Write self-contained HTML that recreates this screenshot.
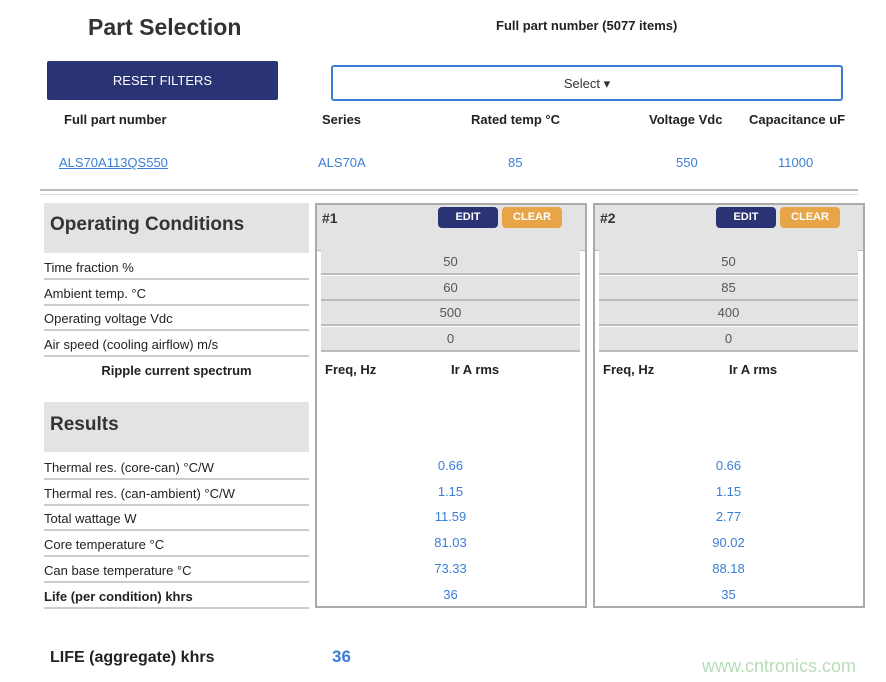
<!DOCTYPE html>
<html><head><style>
body{margin:0;width:886px;height:682px;background:#fff;font-family:"Liberation Sans",sans-serif;position:relative;overflow:hidden;color:#222}
.a{position:absolute}
.lbl{position:absolute;left:44px;width:265px;font-size:13px;color:#222;border-bottom:2px solid #ccc;height:22px;line-height:24px}
.blue{color:#3a7fd5}
.cell{position:absolute;height:23px;background:#e3e3e3;border-bottom:2px solid #bbb;text-align:center;line-height:23px;font-size:13px;color:#555}
.v{position:absolute;text-align:center;font-size:13px;color:#3a7fd5}
.btn{position:absolute;height:21px;border-radius:4px;font-size:11px;color:#fff;text-align:center;line-height:21px;font-weight:bold}
</style></head><body>
<div class="a" style="left:88px;top:14px;font-size:23px;font-weight:bold;color:#333">Part Selection</div>
<div class="a" style="left:496px;top:18px;font-size:13px;font-weight:bold;color:#222">Full part number (5077 items)</div>
<div class="a" style="left:47px;top:61px;width:231px;height:39px;background:#2a3475;color:#fff;font-size:13px;text-align:center;line-height:39px;border-radius:2px">RESET FILTERS</div>
<div class="a" style="left:331px;top:65px;width:508px;height:32px;border:2px solid #3a7fd5;border-radius:3px;text-align:center;line-height:33px;font-size:13px;color:#333">Select ▾</div>
<div class="a" style="left:64px;top:112px;font-size:13px;font-weight:bold">Full part number</div>
<div class="a" style="left:322px;top:112px;font-size:13px;font-weight:bold">Series</div>
<div class="a" style="left:471px;top:112px;font-size:13px;font-weight:bold">Rated temp °C</div>
<div class="a" style="left:649px;top:112px;font-size:13px;font-weight:bold">Voltage Vdc</div>
<div class="a" style="left:749px;top:112px;font-size:13px;font-weight:bold">Capacitance uF</div>
<div class="a blue" style="left:59px;top:155px;font-size:13px;text-decoration:underline">ALS70A113QS550</div>
<div class="a blue" style="left:318px;top:155px;font-size:13px">ALS70A</div>
<div class="a blue" style="left:508px;top:155px;font-size:13px">85</div>
<div class="a blue" style="left:676px;top:155px;font-size:13px">550</div>
<div class="a blue" style="left:778px;top:155px;font-size:13px">11000</div>
<div class="a" style="left:40px;top:189px;width:818px;height:2px;background:#bbb"></div>
<div class="a" style="left:40px;top:194px;width:818px;height:1px;background:#ddd"></div>

<div class="a" style="left:44px;top:203px;width:265px;height:50px;background:#e3e3e3"></div>
<div class="a" style="left:50px;top:214px;font-size:19px;font-weight:bold;color:#333">Operating Conditions</div>
<div class="lbl" style="top:256px">Time fraction %</div>
<div class="lbl" style="top:282px">Ambient temp. °C</div>
<div class="lbl" style="top:307px">Operating voltage Vdc</div>
<div class="lbl" style="top:333px">Air speed (cooling airflow) m/s</div>
<div class="a" style="left:44px;top:363px;width:265px;text-align:center;font-size:13px;font-weight:bold">Ripple current spectrum</div>
<div class="a" style="left:44px;top:402px;width:265px;height:50px;background:#e3e3e3"></div>
<div class="a" style="left:50px;top:414px;font-size:19px;font-weight:bold;color:#333">Results</div>
<div class="lbl" style="top:456px">Thermal res. (core-can) °C/W</div>
<div class="lbl" style="top:482px">Thermal res. (can-ambient) °C/W</div>
<div class="lbl" style="top:507px">Total wattage W</div>
<div class="lbl" style="top:533px">Core temperature °C</div>
<div class="lbl" style="top:559px">Can base temperature °C</div>
<div class="lbl" style="top:585px;font-weight:bold">Life (per condition) khrs</div>

<!-- panel 1 -->
<div class="a" style="left:315px;top:203px;width:268px;height:401px;border:2px solid #aaa"></div>
<div class="a" style="left:317px;top:205px;width:268px;height:45px;background:#e3e3e3;border-bottom:1px solid #bbb"></div>
<div class="a" style="left:322px;top:210px;font-size:14px;font-weight:bold;color:#333">#1</div>
<div class="btn" style="left:438px;top:207px;width:60px;background:#2a3475">EDIT</div>
<div class="btn" style="left:502px;top:207px;width:60px;background:#e8a548">CLEAR</div>
<div class="cell" style="left:321px;top:250px;width:259px">50</div>
<div class="cell" style="left:321px;top:276px;width:259px">60</div>
<div class="cell" style="left:321px;top:301px;width:259px">500</div>
<div class="cell" style="left:321px;top:327px;width:259px">0</div>
<div class="a" style="left:325px;top:362px;font-size:13px;font-weight:bold">Freq, Hz</div>
<div class="a" style="left:451px;top:362px;font-size:13px;font-weight:bold">Ir A rms</div>
<div class="v" style="left:321px;width:259px;top:458px">0.66</div>
<div class="v" style="left:321px;width:259px;top:484px">1.15</div>
<div class="v" style="left:321px;width:259px;top:509px">11.59</div>
<div class="v" style="left:321px;width:259px;top:535px">81.03</div>
<div class="v" style="left:321px;width:259px;top:561px">73.33</div>
<div class="v" style="left:321px;width:259px;top:587px">36</div>

<!-- panel 2 -->
<div class="a" style="left:593px;top:203px;width:268px;height:401px;border:2px solid #aaa"></div>
<div class="a" style="left:595px;top:205px;width:268px;height:45px;background:#e3e3e3;border-bottom:1px solid #bbb"></div>
<div class="a" style="left:600px;top:210px;font-size:14px;font-weight:bold;color:#333">#2</div>
<div class="btn" style="left:716px;top:207px;width:60px;background:#2a3475">EDIT</div>
<div class="btn" style="left:780px;top:207px;width:60px;background:#e8a548">CLEAR</div>
<div class="cell" style="left:599px;top:250px;width:259px">50</div>
<div class="cell" style="left:599px;top:276px;width:259px">85</div>
<div class="cell" style="left:599px;top:301px;width:259px">400</div>
<div class="cell" style="left:599px;top:327px;width:259px">0</div>
<div class="a" style="left:603px;top:362px;font-size:13px;font-weight:bold">Freq, Hz</div>
<div class="a" style="left:729px;top:362px;font-size:13px;font-weight:bold">Ir A rms</div>
<div class="v" style="left:599px;width:259px;top:458px">0.66</div>
<div class="v" style="left:599px;width:259px;top:484px">1.15</div>
<div class="v" style="left:599px;width:259px;top:509px">2.77</div>
<div class="v" style="left:599px;width:259px;top:535px">90.02</div>
<div class="v" style="left:599px;width:259px;top:561px">88.18</div>
<div class="v" style="left:599px;width:259px;top:587px">35</div>

<div class="a" style="left:50px;top:649px;font-size:16px;font-weight:bold;color:#222">LIFE (aggregate) khrs</div>
<div class="a blue" style="left:332px;top:647px;font-size:17px;font-weight:bold">36</div>
<div class="a" style="left:702px;top:656px;font-size:18px;color:#b8dcb8">www.cntronics.com</div>
</body></html>
